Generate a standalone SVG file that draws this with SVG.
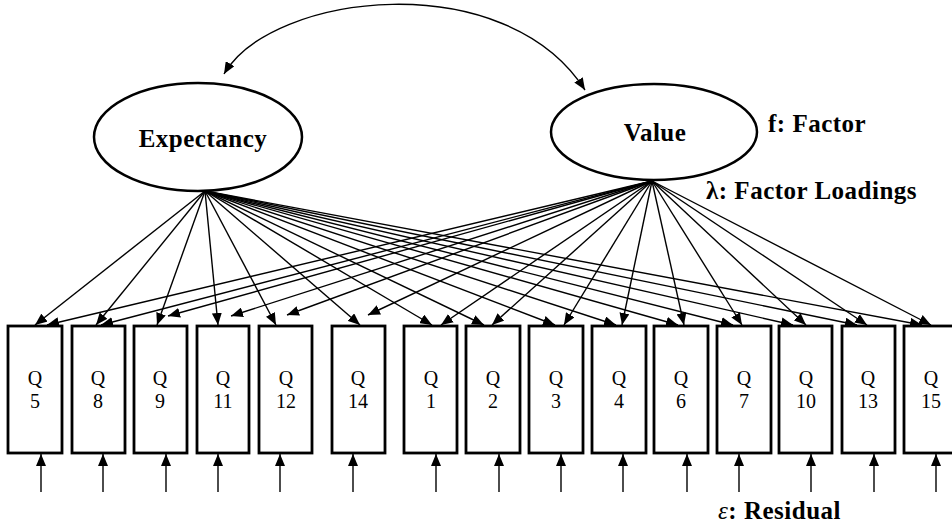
<svg xmlns="http://www.w3.org/2000/svg" width="952" height="525" viewBox="0 0 952 525">
<defs>
<marker id="ah" markerUnits="userSpaceOnUse" markerWidth="12" markerHeight="10" refX="12" refY="5" orient="auto-start-reverse"><path d="M0,0 L12,5 L0,10 z" fill="#000"/></marker>
<style>
.lat{fill:#fff;stroke:#000;stroke-width:2.5}
.box{fill:#fff;stroke:#000;stroke-width:2.8}
.lbl{font-family:"Liberation Serif","Times New Roman",serif;font-weight:bold;font-size:25px;letter-spacing:0.5px;fill:#000}
.q{font-family:"Liberation Serif","Times New Roman",serif;font-size:20px;fill:#000;text-anchor:middle}
.c line,.c path{stroke:#000;stroke-width:1.4;fill:none;marker-end:url(#ah)}
</style>
</defs>
<rect width="952" height="525" fill="#fff"/>
<g id="connectors" class="c">
<path d="M224,74 C272,-8 505,-35 585,90" style="marker-start:url(#ah)"/>
<line x1="205" y1="191" x2="35" y2="325"/>
<line x1="205" y1="191" x2="96" y2="325"/>
<line x1="205" y1="191" x2="157" y2="325"/>
<line x1="205" y1="191" x2="218" y2="325"/>
<line x1="205" y1="191" x2="276" y2="325"/>
<line x1="205" y1="191" x2="360" y2="325"/>
<line x1="205" y1="191" x2="432" y2="325"/>
<line x1="205" y1="191" x2="484" y2="325"/>
<line x1="205" y1="191" x2="555" y2="325"/>
<line x1="205" y1="191" x2="616" y2="325"/>
<line x1="205" y1="191" x2="678" y2="325"/>
<line x1="205" y1="191" x2="733" y2="325"/>
<line x1="205" y1="191" x2="793" y2="325"/>
<line x1="205" y1="191" x2="857" y2="325"/>
<line x1="205" y1="191" x2="922" y2="325"/>
<line x1="652" y1="181" x2="47" y2="325"/>
<line x1="652" y1="181" x2="101" y2="325"/>
<line x1="652" y1="181" x2="168" y2="316"/>
<line x1="652" y1="181" x2="231" y2="316"/>
<line x1="652" y1="181" x2="287" y2="315"/>
<line x1="652" y1="181" x2="368" y2="315"/>
<line x1="652" y1="181" x2="441" y2="325"/>
<line x1="652" y1="181" x2="492" y2="325"/>
<line x1="652" y1="181" x2="564" y2="325"/>
<line x1="652" y1="181" x2="622" y2="325"/>
<line x1="652" y1="181" x2="684" y2="325"/>
<line x1="652" y1="181" x2="742" y2="325"/>
<line x1="652" y1="181" x2="806" y2="325"/>
<line x1="652" y1="181" x2="867" y2="325"/>
<line x1="652" y1="181" x2="931" y2="325"/>
<line x1="41" y1="492" x2="41" y2="454"/>
<line x1="103" y1="492" x2="103" y2="454"/>
<line x1="166" y1="492" x2="166" y2="454"/>
<line x1="218" y1="492" x2="218" y2="454"/>
<line x1="280" y1="492" x2="280" y2="454"/>
<line x1="353" y1="492" x2="353" y2="454"/>
<line x1="436" y1="492" x2="436" y2="454"/>
<line x1="499" y1="492" x2="499" y2="454"/>
<line x1="561" y1="492" x2="561" y2="454"/>
<line x1="623" y1="492" x2="623" y2="454"/>
<line x1="687" y1="492" x2="687" y2="454"/>
<line x1="739" y1="492" x2="739" y2="454"/>
<line x1="811" y1="492" x2="811" y2="454"/>
<line x1="874" y1="492" x2="874" y2="454"/>
<line x1="936" y1="492" x2="936" y2="454"/>
</g>
<g id="expectancy"><ellipse class="lat" cx="198" cy="137" rx="104" ry="54"/><text class="lbl" x="203" y="147" text-anchor="middle">Expectancy</text></g>
<g id="value"><ellipse class="lat" cx="654" cy="132" rx="103" ry="48"/><text class="lbl" x="655" y="141" text-anchor="middle">Value</text></g>
<g id="q5"><rect class="box" x="8" y="326" width="54" height="127"/><text class="q" x="35" y="385">Q</text><text class="q" x="35" y="408">5</text></g>
<g id="q8"><rect class="box" x="72" y="326" width="53" height="127"/><text class="q" x="98" y="385">Q</text><text class="q" x="98" y="408">8</text></g>
<g id="q9"><rect class="box" x="134" y="326" width="53" height="127"/><text class="q" x="160" y="385">Q</text><text class="q" x="160" y="408">9</text></g>
<g id="q11"><rect class="box" x="197" y="326" width="52" height="127"/><text class="q" x="223" y="385">Q</text><text class="q" x="223" y="408">11</text></g>
<g id="q12"><rect class="box" x="259" y="326" width="53" height="127"/><text class="q" x="286" y="385">Q</text><text class="q" x="286" y="408">12</text></g>
<g id="q14"><rect class="box" x="332" y="326" width="53" height="127"/><text class="q" x="358" y="385">Q</text><text class="q" x="358" y="408">14</text></g>
<g id="q1"><rect class="box" x="404" y="326" width="53" height="127"/><text class="q" x="431" y="385">Q</text><text class="q" x="431" y="408">1</text></g>
<g id="q2"><rect class="box" x="466" y="326" width="54" height="127"/><text class="q" x="493" y="385">Q</text><text class="q" x="493" y="408">2</text></g>
<g id="q3"><rect class="box" x="529" y="326" width="54" height="127"/><text class="q" x="556" y="385">Q</text><text class="q" x="556" y="408">3</text></g>
<g id="q4"><rect class="box" x="592" y="326" width="54" height="127"/><text class="q" x="619" y="385">Q</text><text class="q" x="619" y="408">4</text></g>
<g id="q6"><rect class="box" x="654" y="326" width="54" height="127"/><text class="q" x="681" y="385">Q</text><text class="q" x="681" y="408">6</text></g>
<g id="q7"><rect class="box" x="717" y="326" width="54" height="127"/><text class="q" x="744" y="385">Q</text><text class="q" x="744" y="408">7</text></g>
<g id="q10"><rect class="box" x="779" y="326" width="53" height="127"/><text class="q" x="806" y="385">Q</text><text class="q" x="806" y="408">10</text></g>
<g id="q13"><rect class="box" x="842" y="326" width="53" height="127"/><text class="q" x="868" y="385">Q</text><text class="q" x="868" y="408">13</text></g>
<g id="q15"><rect class="box" x="904" y="326" width="54" height="127"/><text class="q" x="931" y="385">Q</text><text class="q" x="931" y="408">15</text></g>
<g id="legend">
<text class="lbl" x="768" y="132">f: Factor</text>
<text class="lbl" x="706" y="199">λ: Factor Loadings</text>
<text class="lbl" x="718" y="519"><tspan font-style="italic" font-weight="normal">ε</tspan>: Residual</text>
</g>
</svg>
